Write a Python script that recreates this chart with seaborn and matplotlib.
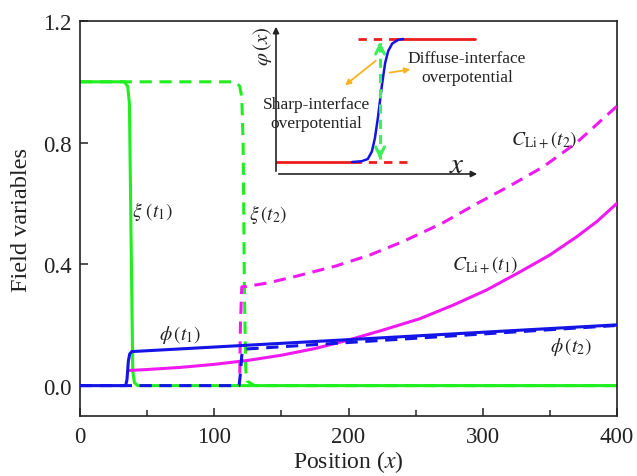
import numpy as np
import pandas as pd
import matplotlib
matplotlib.use("Agg")
import matplotlib.pyplot as plt
from matplotlib.ticker import MultipleLocator, FormatStrFormatter
import seaborn as sns

# ── data ──────────────────────────────────────────────────
xi1_x = [0, 33, 35.5, 36.8, 38.0, 39.3, 40.5, 43, 400]
xi1_y = [1.0, 1.0, 0.985, 0.93, 0.5, 0.05, 0.01, 0.0, 0.0]

xi2_x = [0, 116, 119, 120.5, 121.5, 122.5, 123.5, 124.5, 130, 400]
xi2_y = [1.0, 1.0, 0.985, 0.95, 0.8, 0.3, 0.05, 0.015, 0.0, 0.0]

phi1_x = [0, 34, 35, 36, 37, 38.5, 400]
phi1_y = [0.0, 0.0, 0.02, 0.08, 0.104, 0.112, 0.2]

phi2_x = [0, 118.5, 119.5, 120.5, 122, 400]
phi2_y = [0.0, 0.0, 0.04, 0.1, 0.12, 0.198]

c1_x = [37, 50, 75, 100, 125, 150, 175, 200, 225, 253, 278, 303, 328, 350, 370, 385, 400]
c1_y = [0.05, 0.053, 0.06, 0.07, 0.083, 0.1, 0.122, 0.15, 0.182, 0.22, 0.265,
        0.315, 0.375, 0.43, 0.49, 0.54, 0.6]

c2_x = [119, 119.5, 120.5, 125, 140, 161, 190, 216, 241, 270, 296, 320, 345, 370, 400]
c2_y = [0.04, 0.2, 0.325, 0.327, 0.338, 0.36, 0.393, 0.43, 0.475, 0.535, 0.6,
        0.657, 0.72, 0.80, 0.92]

# inset schematic (normalised inset coordinates)
sig_u = [0.373, 0.42, 0.45, 0.47, 0.485, 0.50, 0.51, 0.52, 0.535, 0.55, 0.57, 0.60, 0.623]
sig_v = [0.08, 0.085, 0.10, 0.15, 0.24, 0.38, 0.49, 0.60, 0.74, 0.82, 0.87, 0.895, 0.90]
low_v, high_v = 0.08, 0.90

GREEN, BLUE, MAG = "#1fef1f", "#1414e6", "#f01af0"
RED, ORANGE, LGREEN = "#ee1c1c", "#f6b31c", "#3cf05a"

sns.set_theme(style="ticks")
plt.rcParams["font.family"] = ["Liberation Serif", "DejaVu Serif"]
plt.rcParams["mathtext.fontset"] = "stix"
plt.rcParams["xtick.direction"] = "in"
plt.rcParams["ytick.direction"] = "in"

fig = plt.figure(figsize=(6.37, 4.77), dpi=100)
ax = fig.add_axes([0.1256, 0.1258, 0.843, 0.828])

LW = 2.2
DASH = (0, (4, 2.5))

def curve(x, y, color, ls="-", z=2):
    d = pd.DataFrame({"x": x, "y": y})
    sns.lineplot(data=d, x="x", y="y", ax=ax, color=color, lw=LW,
                 estimator=None, sort=False, linestyle=ls, zorder=z)

curve(xi1_x, xi1_y, GREEN, z=2)
curve(xi2_x, xi2_y, GREEN, DASH, z=2)
curve(c1_x, c1_y, MAG, z=3)
curve(c2_x, c2_y, MAG, DASH, z=3)
curve(phi2_x, phi2_y, BLUE, DASH, z=4)
curve(phi1_x, phi1_y, BLUE, z=5)

ax.set_xlim(0, 400)
ax.set_ylim(-0.1, 1.2)
ax.xaxis.set_major_locator(MultipleLocator(100))
ax.xaxis.set_minor_locator(MultipleLocator(50))
ax.yaxis.set_major_locator(MultipleLocator(0.4))
ax.yaxis.set_major_formatter(FormatStrFormatter("%.1f"))
ax.tick_params(axis="both", which="major", length=6, width=1.1, labelsize=16.5,
               colors="#222222")
ax.tick_params(axis="x", which="major", pad=7)
ax.tick_params(axis="y", which="major", pad=6)
ax.tick_params(axis="x", which="minor", length=4, width=1.1)
for s in ax.spines.values():
    s.set_linewidth(1.2)
    s.set_color("#222222")
ax.set_xlabel("Position ($x$)", fontsize=17, labelpad=1, color="#222222")
ax.set_ylabel("Field variables", fontsize=17.5, labelpad=8, color="#222222")

lab = dict(fontsize=14, color="#222222", ha="center", va="center")
ax.text(54, 0.576, r"$\xi\ (t_1)$", **lab)
ax.text(140, 0.566, r"$\xi\,(t_2)$", **lab)
ax.text(74.5, 0.171, r"$\phi\,(t_1)$", **lab)
ax.text(366, 0.13, r"$\phi\,(t_2)$", **lab)
ax.text(302, 0.40, r"$C_{\mathrm{Li+}}(t_1)$", **lab)
ax.text(346, 0.81, r"$C_{\mathrm{Li+}}(t_2)$", **lab)

# ── inset schematic ───────────────────────────────────────
ins = fig.add_axes([276 / 637, (477 - 175) / 477, 204 / 637, 150 / 477])
ins.set_xlim(0, 1)
ins.set_ylim(0, 1)
ins.axis("off")
ins.patch.set_alpha(0)

ins.plot([0, 0.377], [low_v, low_v], color=RED, lw=2)
ins.plot([0.377, 0.642], [low_v, low_v], color=RED, lw=2, linestyle=(0, (3, 2.5)))
ins.plot([0.40, 0.574], [high_v, high_v], color=RED, lw=2, linestyle=(0, (3, 2.5)))
ins.plot([0.574, 0.975], [high_v, high_v], color=RED, lw=2)
ins.plot(sig_u, sig_v, color=BLUE, lw=1.8)

ins.plot([0.51, 0.51], [low_v + 0.02, high_v - 0.02], color=LGREEN, lw=2.2,
         linestyle=(0, (3, 2)))
for tip, tail in [(high_v, high_v - 0.08), (low_v, low_v + 0.08)]:
    ins.annotate("", xy=(0.51, tip), xytext=(0.51, tail),
                 arrowprops=dict(arrowstyle="->", color=LGREEN, lw=2.2,
                                 mutation_scale=16))

ax_arrow = dict(arrowstyle="-|>", color="#222222", lw=1.2, mutation_scale=9)
ins.annotate("", xy=(0, 1.0), xytext=(0, 0), arrowprops=ax_arrow, annotation_clip=False)
ins.annotate("", xy=(1.0, 0), xytext=(0, 0), arrowprops=ax_arrow, annotation_clip=False)

or_arrow = dict(arrowstyle="-|>", color=ORANGE, lw=1.3, mutation_scale=8)
ins.annotate("", xy=(0.328, 0.58), xytext=(0.50, 0.767), arrowprops=or_arrow)
ins.annotate("", xy=(0.672, 0.70), xytext=(0.544, 0.673), arrowprops=or_arrow)

itxt = dict(fontsize=12.5, color="#222222", ha="center", va="center",
            linespacing=1.25)
ins.text(0.936, 0.713, "Diffuse-interface\noverpotential", **itxt)
ins.text(0.20, 0.40, "Sharp-interface\noverpotential", **itxt)
ins.text(-0.064, 0.86, r"$\varphi\,(x)$", fontsize=15, rotation=90,
         ha="center", va="center", color="#222222")
ins.text(0.887, 0.06, r"$x$", fontsize=21, ha="center", va="center",
         color="#222222")

fig.savefig("out.png", dpi=100)
